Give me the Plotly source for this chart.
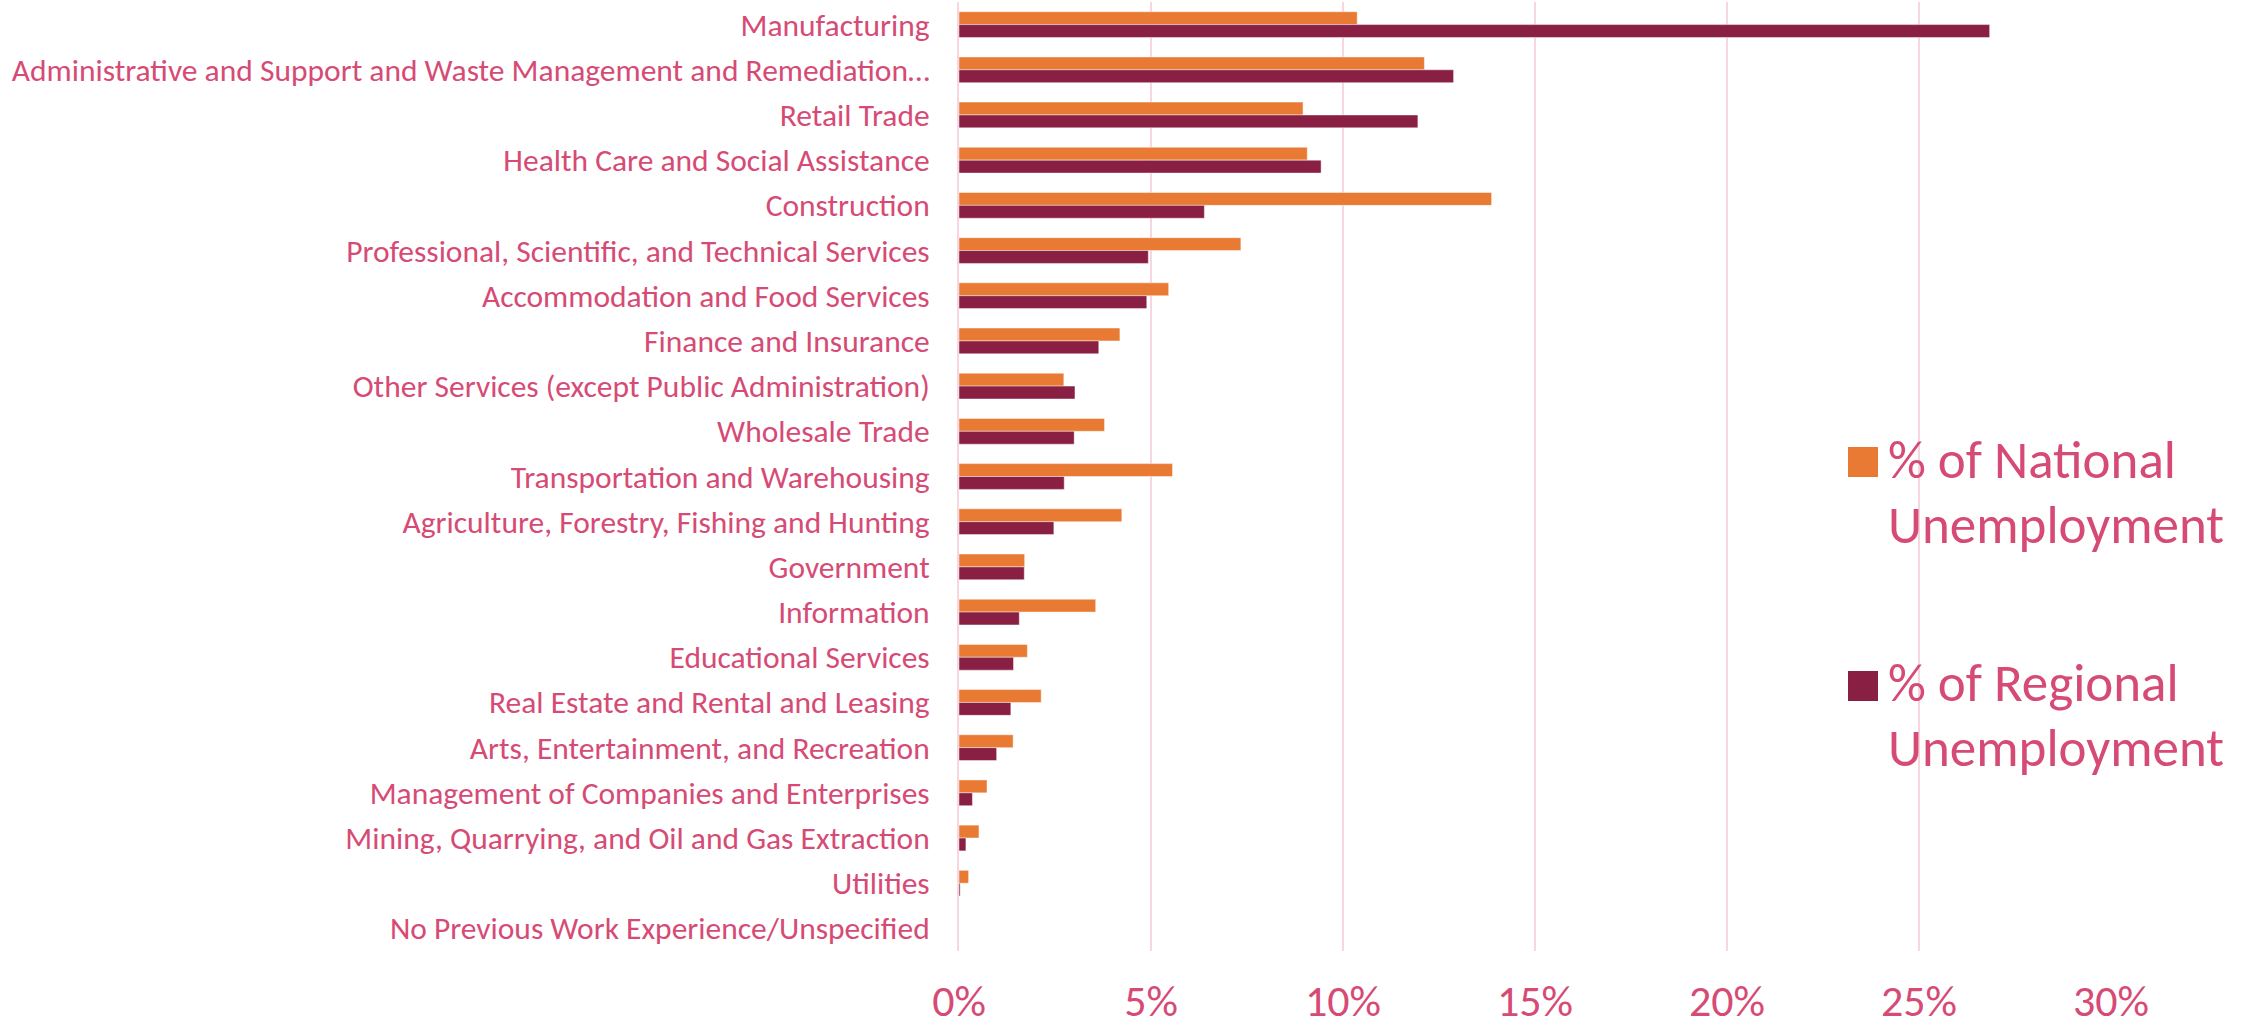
import plotly.graph_objects as go

fig_width = 2261
fig_height = 1032

pink = "#D64B75"
orange = "#E97A33"
maroon = "#891F43"
grid_pink = "#F6D7E1"
font_family = "Calibri, Carlito, Lato, sans-serif"

industries = [
    "Manufacturing",
    "Administrative and Support and Waste Management and Remediation…",
    "Retail Trade",
    "Health Care and Social Assistance",
    "Construction",
    "Professional, Scientific, and Technical Services",
    "Accommodation and Food Services",
    "Finance and Insurance",
    "Other Services (except Public Administration)",
    "Wholesale Trade",
    "Transportation and Warehousing",
    "Agriculture, Forestry, Fishing and Hunting",
    "Government",
    "Information",
    "Educational Services",
    "Real Estate and Rental and Leasing",
    "Arts, Entertainment, and Recreation",
    "Management of Companies and Enterprises",
    "Mining, Quarrying, and Oil and Gas Extraction",
    "Utilities",
    "No Previous Work Experience/Unspecified",
]

# % of national unemployment
national = [10.37, 12.12, 8.96, 9.07, 13.87, 7.34, 5.46, 4.19, 2.73, 3.79, 5.56,
            4.24, 1.71, 3.56, 1.78, 2.14, 1.41, 0.73, 0.52, 0.25, 0.0]
# % of regional unemployment
regional = [26.84, 12.88, 11.95, 9.43, 6.39, 4.93, 4.89, 3.64, 3.02, 3.00, 2.74,
            2.47, 1.70, 1.57, 1.42, 1.35, 0.98, 0.35, 0.18, 0.03, 0.0]

x_ticks = [0, 5, 10, 15, 20, 25, 30]
x_tick_labels = ["0%", "5%", "10%", "15%", "20%", "25%", "30%"]

legend_lines = [["% of National", "Unemployment"], ["% of Regional", "Unemployment"]]

# plot area in pixels (Excel-like layout)
plot_left, plot_right = 959, 2111
plot_top, plot_bottom = 2, 951
plot_w = plot_right - plot_left
plot_h = plot_bottom - plot_top


def px_x(x):
    return (x - plot_left) / plot_w


def px_y(y):
    return (plot_bottom - y) / plot_h


fig = go.Figure()
fig.add_trace(go.Bar(y=industries, x=national, orientation="h", name="National",
                     marker=dict(color=orange, line=dict(width=1, color="rgba(255,255,255,0.45)"))))
fig.add_trace(go.Bar(y=industries, x=regional, orientation="h", name="Regional",
                     marker=dict(color=maroon, line=dict(width=1, color="rgba(255,255,255,0.45)"))))

fig.update_layout(
    width=fig_width,
    height=fig_height,
    margin=dict(l=plot_left, r=fig_width - plot_right, t=plot_top, b=fig_height - plot_bottom,
                autoexpand=False),
    barmode="group",
    bargap=0.43,
    bargroupgap=0,
    showlegend=False,
    plot_bgcolor="white",
    paper_bgcolor="white",
    font=dict(family=font_family, color=pink),
)

fig.update_xaxes(
    range=[0, 30],
    tickvals=x_ticks,
    ticktext=x_tick_labels,
    showgrid=True,
    gridcolor=grid_pink,
    gridwidth=1.5,
    zeroline=False,
    showline=False,
    automargin=False,
    tickfont=dict(size=44, color=pink),
    ticklabelstandoff=20,
)
fig.update_yaxes(
    autorange="reversed",
    showgrid=False,
    showline=True,
    linecolor=grid_pink,
    linewidth=2,
    ticks="",
    automargin=False,
    tickfont=dict(size=31.5, color=pink),
    ticklabelstandoff=21,
)

# legend drawn by hand so the swatches can be as large as the original
legend_colors = [orange, maroon]
swatch_tops = [447, 671]
line_centers = [[460, 525], [683, 748]]
for lines, color, top, centers in zip(legend_lines, legend_colors, swatch_tops, line_centers):
    fig.add_shape(type="rect", xref="paper", yref="paper",
                  x0=px_x(1848), x1=px_x(1878), y0=px_y(top), y1=px_y(top + 30),
                  fillcolor=color, line=dict(width=0), layer="above")
    for line, yc in zip(lines, centers):
        fig.add_annotation(xref="paper", yref="paper", x=px_x(1886), y=px_y(yc),
                           xanchor="left", yanchor="middle", align="left",
                           text=line, showarrow=False,
                           font=dict(size=53, color=pink, family=font_family))

# the page's default body margin would push the chart off the window edges
fig.write_html("out.html", config={"displayModeBar": False},
               post_script="document.body.style.margin = '0';")
